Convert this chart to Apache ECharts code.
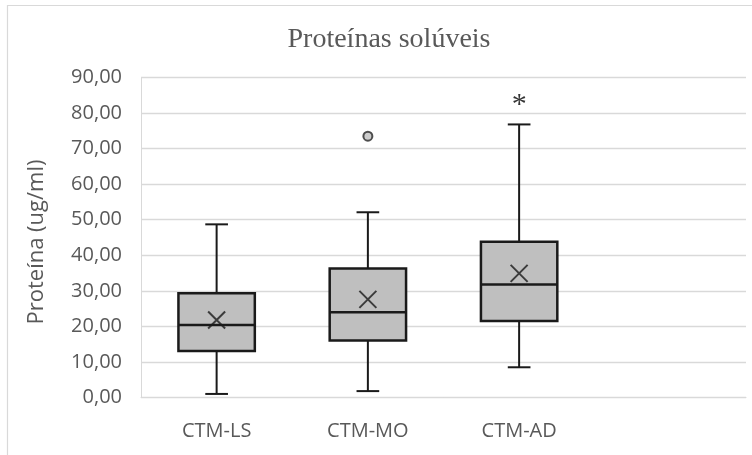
<!DOCTYPE html>
<html>
<head>
<meta charset="utf-8">
<script src="https://cdn.jsdelivr.net/npm/echarts@6/dist/echarts.min.js"></script>
<style>
html,body{margin:0;padding:0;background:#fff;}
#chart{width:752px;height:455px;}
</style>
</head>
<body>
<div id="chart"></div>
<script>
const categories = ['CTM-LS', 'CTM-MO', 'CTM-AD', ''];
const whiskerMin = [1.0, 1.8, 8.5];
const q1 = [13.1, 16.0, 21.5];
const medians = [20.4, 24.0, 31.8];
const q3 = [29.3, 36.3, 43.8];
const whiskerMax = [48.7, 52.1, 76.8];
const means = [21.8, 27.6, 34.9];
const outliers = [[1, 73.5]];
const significance = [[2, 83.9]];
const significanceText = '*';
const yMin = 0, yMax = 90, yInterval = 10;
const titleText = 'Proteínas solúveis';
const yAxisTitle = 'Proteína (ug/ml)';

const boxData = whiskerMin.map((v, i) => [i, v, q1[i], medians[i], q3[i], whiskerMax[i]]);
const meanData = means.map((v, i) => [i, v]);

const labelColor = '#595959';
const lineColor = '#1a1a1a';
const gridColor = '#d9d9d9';

const chart = echarts.init(document.getElementById('chart'), null, {renderer: 'canvas'});

function renderBox(params, api) {
  const idx = api.value(0);
  const band = api.size([1, 0])[0];
  const boxW = band * 0.505;
  const capW = band * 0.15;
  const pMin = api.coord([idx, api.value(1)]);
  const pQ1 = api.coord([idx, api.value(2)]);
  const pMed = api.coord([idx, api.value(3)]);
  const pQ3 = api.coord([idx, api.value(4)]);
  const pMax = api.coord([idx, api.value(5)]);
  const cx = pMed[0];
  const wStyle = {stroke: lineColor, lineWidth: 2};
  return {
    type: 'group',
    children: [
      {type: 'line', shape: {x1: cx, y1: pMin[1], x2: cx, y2: pQ1[1]}, style: wStyle},
      {type: 'line', shape: {x1: cx - capW / 2, y1: pMin[1], x2: cx + capW / 2, y2: pMin[1]}, style: wStyle},
      {type: 'line', shape: {x1: cx, y1: pMax[1], x2: cx, y2: pQ3[1]}, style: wStyle},
      {type: 'line', shape: {x1: cx - capW / 2, y1: pMax[1], x2: cx + capW / 2, y2: pMax[1]}, style: wStyle},
      {type: 'rect', shape: {x: cx - boxW / 2, y: pQ3[1], width: boxW, height: pQ1[1] - pQ3[1]},
        style: {fill: '#bfbfbf', stroke: lineColor, lineWidth: 2.5}},
      {type: 'line', shape: {x1: cx - boxW / 2, y1: pMed[1], x2: cx + boxW / 2, y2: pMed[1]},
        style: {stroke: lineColor, lineWidth: 2.5}}
    ]
  };
}

const option = {
  animation: false,
  backgroundColor: '#fff',
  grid: {left: 141, top: 77.5, right: 6, bottom: 57.5, containLabel: false},
  xAxis: {
    type: 'category',
    data: categories,
    boundaryGap: true,
    axisTick: {show: false},
    axisLine: {lineStyle: {color: gridColor, width: 1}},
    axisLabel: {color: labelColor, fontFamily: 'Open Sans', fontSize: 20, margin: 24},
    splitLine: {show: false}
  },
  yAxis: {
    type: 'value',
    min: yMin, max: yMax, interval: yInterval,
    axisLine: {show: true, lineStyle: {color: gridColor, width: 1}},
    axisTick: {show: false},
    axisLabel: {color: labelColor, fontFamily: 'Open Sans', fontSize: 20, margin: 19,
      formatter: v => v.toFixed(2).replace('.', ',')},
    splitLine: {lineStyle: {color: gridColor, width: 1.3}}
  },
  graphic: [
    {type: 'rect', shape: {x: 7.5, y: 5.5, width: 800, height: 500},
      style: {fill: 'none', stroke: gridColor, lineWidth: 1.2}, silent: true, z: -10},
    {type: 'text', x: 389, y: 40, style: {text: titleText, textAlign: 'center', textVerticalAlign: 'middle',
      font: '28px "Liberation Serif"', fill: labelColor}},
    {type: 'text', x: 37, y: 242, rotation: Math.PI / 2,
      style: {text: yAxisTitle, textAlign: 'center', textVerticalAlign: 'middle',
        font: '22px "Open Sans"', fill: labelColor}}
  ],
  series: [
    {
      type: 'custom',
      renderItem: renderBox,
      data: boxData,
      encode: {x: 0, y: [1, 2, 3, 4, 5]},
      z: 2
    },
    {
      type: 'scatter',
      data: meanData,
      symbol: 'path://M0,0L10,10M10,0L0,10',
      symbolSize: 17,
      itemStyle: {color: 'none', borderColor: lineColor, borderWidth: 2},
      z: 3
    },
    {
      type: 'scatter',
      data: outliers,
      symbol: 'circle',
      symbolSize: 9,
      itemStyle: {color: '#bfbfbf', borderColor: '#262626', borderWidth: 2},
      z: 3
    },
    {
      type: 'scatter',
      data: significance,
      symbol: 'circle',
      symbolSize: 2,
      itemStyle: {color: 'rgba(0,0,0,0)'},
      label: {show: true, position: 'inside', formatter: significanceText, color: '#000',
        fontFamily: 'Liberation Serif', fontSize: 30, offset: [0, 6]},
      z: 4
    }
  ]
};
chart.setOption(option);
</script>
</body>
</html>
